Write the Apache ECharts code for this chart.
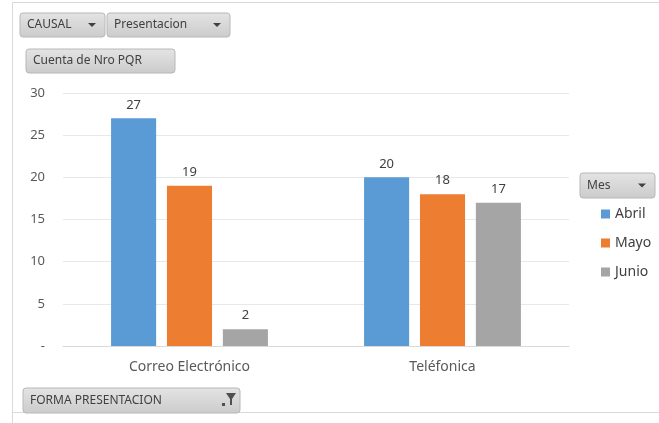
<!DOCTYPE html>
<html>
<head>
    <meta charset="UTF-8">
    <title>Cuenta de Nro PQR</title>
    <script type="text/javascript" src="https://cdn.jsdelivr.net/npm/echarts@6/dist/echarts.min.js"></script>
</head>
<body style="margin:0;background-color:#ffffff;">
  <div id="main" style="width:659px;height:423px;"></div>
  <script>
    // datos de la tabla dinamica
    var categorias = ['Correo Electrónico', 'Teléfonica'];
    var abril = [27, 20];
    var mayo = [19, 18];
    var junio = [2, 17];
    var ticks = ['-', '5', '10', '15', '20', '25', '30'];

    var fuente = '"Noto Sans", "Open Sans", sans-serif';

    // botones grises tipo Excel
    function boton(x, y, w, h, texto, extra) {
        var hijos = [{
            type: 'rect',
            shape: {x: 0, y: 0, width: w, height: h, r: 3},
            style: {
                fill: new echarts.graphic.LinearGradient(0, 0, 0, 1, [
                    {offset: 0, color: '#e4e4e4'}, {offset: 1, color: '#cbcbcb'}
                ]),
                stroke: '#b8b8b8', lineWidth: 1
            }
        }, {
            type: 'text',
            style: {x: 7, y: h / 2, text: texto, fill: '#404040', font: '12px ' + fuente, verticalAlign: 'middle'}
        }];
        if (extra === 'flecha') {
            hijos.push({
                type: 'polygon',
                shape: {points: [[w - 17, h / 2 - 2], [w - 9, h / 2 - 2], [w - 13, h / 2 + 2]]},
                style: {fill: '#404040'}
            });
        } else if (extra === 'filtro') {
            hijos.push({
                type: 'polygon',
                shape: {points: [[w - 14, 5], [w - 4, 5], [w - 8, 11], [w - 8, 17], [w - 10, 17], [w - 10, 11]]},
                style: {fill: '#505050'}
            });
            hijos.push({
                type: 'rect', shape: {x: w - 18, y: 15, width: 3, height: 3},
                style: {fill: '#505050'}
            });
        }
        return {type: 'group', x: x, y: y, children: hijos};
    }

    var chart = echarts.init(document.getElementById('main'), null, {renderer: 'canvas'});

    var option = {
        backgroundColor: '#ffffff',
        textStyle: {fontFamily: fuente},
        color: ['#5B9BD5', '#ED7D31', '#A5A5A5'],
        grid: {left: 63, right: 90, top: 93, bottom: 77},
        legend: {
            orient: 'vertical',
            left: 596, top: 202,
            itemWidth: 9, itemHeight: 9,
            itemGap: 15,
            icon: 'rect',
            textStyle: {fontSize: 14, color: '#404040', padding: [0, 0, 0, 0]},
            data: ['Abril', 'Mayo', 'Junio']
        },
        xAxis: {
            type: 'category',
            data: categorias,
            axisLine: {lineStyle: {color: '#d9d9d9'}},
            axisTick: {show: false},
            axisLabel: {fontSize: 14, color: '#595959', margin: 14}
        },
        yAxis: {
            type: 'value',
            min: 0, max: 30, interval: 5,
            axisLine: {show: false},
            axisTick: {show: false},
            splitLine: {lineStyle: {color: '#e8e8e8'}},
            axisLabel: {
                fontSize: 13, color: '#595959', margin: 18,
                formatter: function (v) { return ticks[v / 5]; }
            }
        },
        series: [
            {name: 'Abril', type: 'bar', data: abril, barGap: '24%', barCategoryGap: '38%',
             label: {show: true, position: 'top', fontSize: 13, color: '#404040', distance: 7}},
            {name: 'Mayo', type: 'bar', data: mayo,
             label: {show: true, position: 'top', fontSize: 13, color: '#404040', distance: 7}},
            {name: 'Junio', type: 'bar', data: junio,
             label: {show: true, position: 'top', fontSize: 13, color: '#404040', distance: 7}}
        ],
        graphic: [
            // marco del grafico
            {type: 'polyline', shape: {points: [[12.5, 423], [12.5, 2.5], [659, 2.5]]},
             style: {stroke: '#d9d9d9', fill: null, lineWidth: 1}},
            {type: 'line', shape: {x1: 12, y1: 412.5, x2: 659, y2: 412.5},
             style: {stroke: '#d9d9d9', lineWidth: 1}},
            boton(20, 13, 85, 24, 'CAUSAL', 'flecha'),
            boton(107, 13, 123, 24, 'Presentacion', 'flecha'),
            boton(26, 49, 149, 24, 'Cuenta de Nro PQR'),
            boton(580, 173, 75, 25, 'Mes', 'flecha'),
            boton(23, 388, 217, 25, 'FORMA PRESENTACION', 'filtro')
        ]
    };

    chart.setOption(option);
  </script>
</body>
</html>
